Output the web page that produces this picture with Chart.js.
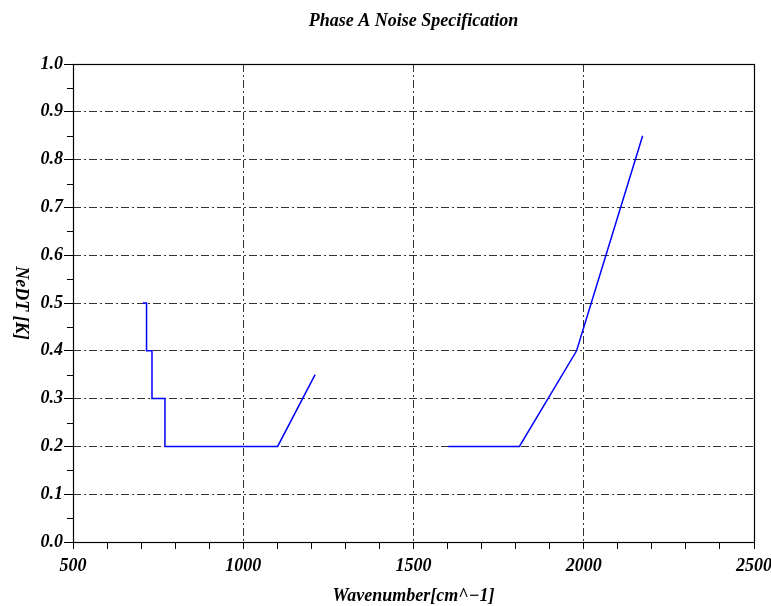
<!DOCTYPE html>
<html>
<head>
<meta charset="utf-8">
<script src="https://cdn.jsdelivr.net/npm/chart.js@4.4.1/dist/chart.umd.min.js"></script>
<style>
  html, body { margin: 0; padding: 0; background: #ffffff; }
  #wrap { width: 771px; height: 606px; position: relative; }
</style>
</head>
<body>
<div id="wrap"><canvas id="c" width="771" height="606"></canvas></div>
<script>
// ---- data ----
const chartTitle = 'Phase A Noise Specification';
const xTitle = 'Wavenumber[cm^\u22121]';
const yTitle = 'NeDT [K]';

const band1Wavenumber = [705, 716, 716, 732, 732, 770, 770, 1101, 1211];
const band1NeDT       = [0.5, 0.5, 0.4, 0.4, 0.3, 0.3, 0.2, 0.2, 0.35];

const band2Wavenumber = [1602, 1811, 1979, 2173];
const band2NeDT       = [0.2, 0.2, 0.4, 0.85];

const xMin = 500, xMax = 2500, xMajor = 500, xMinor = 100;
const yMin = 0, yMax = 1, yMajor = 0.1, yMinor = 0.05;

const toPoints = (xs, ys) => xs.map((x, i) => ({ x: x, y: ys[i] }));

const FONT = 'Liberation Serif, "Times New Roman", serif';
const gridDash = [8, 3, 2, 3];
const gridColor = '#333333';

const decorPlugin = {
  id: 'decor',
  afterDraw(chart) {
    const ctx = chart.ctx;
    const a = chart.chartArea;
    const ys = chart.scales.y;
    ctx.save();
    // minor ticks on y axis
    ctx.strokeStyle = '#000';
    ctx.lineWidth = 1;
    ctx.setLineDash([]);
    ctx.beginPath();
    for (let v = yMin + yMinor; v < yMax; v += yMajor) {
      const py = Math.round(ys.getPixelForValue(v)) + 0.5;
      ctx.moveTo(a.left - 6, py);
      ctx.lineTo(a.left, py);
    }
    ctx.stroke();
    // frame
    ctx.strokeStyle = '#000';
    ctx.lineWidth = 1.2;
    ctx.strokeRect(Math.round(a.left) + 0.5, Math.round(a.top) + 0.5,
                   Math.round(a.right - a.left), Math.round(a.bottom - a.top));
    // titles
    ctx.fillStyle = '#000';
    ctx.textAlign = 'center';
    ctx.textBaseline = 'middle';
    ctx.font = 'italic bold 18px ' + FONT;
    ctx.fillText(chartTitle, (a.left + a.right) / 2, 21);
    ctx.fillText(xTitle, (a.left + a.right) / 2, 596);
    ctx.translate(21, (a.top + a.bottom) / 2);
    ctx.rotate(Math.PI / 2);
    ctx.fillText(yTitle, 0, 0);
    ctx.restore();
  }
};

new Chart(document.getElementById('c'), {
  type: 'scatter',
  data: {
    datasets: [
      { label: 'band1', data: toPoints(band1Wavenumber, band1NeDT), showLine: true,
        borderColor: '#0000ff', borderWidth: 1.5, pointRadius: 0, fill: false, tension: 0 },
      { label: 'band2', data: toPoints(band2Wavenumber, band2NeDT), showLine: true,
        borderColor: '#0000ff', borderWidth: 1.5, pointRadius: 0, fill: false, tension: 0 }
    ]
  },
  options: {
    responsive: false,
    animation: false,
    devicePixelRatio: 1,
    layout: { padding: { top: 64, right: 17, bottom: 0, left: 0 } },
    plugins: { legend: { display: false }, title: { display: false }, tooltip: { enabled: false } },
    scales: {
      x: {
        type: 'linear', min: xMin, max: xMax,
        afterFit(s) { s.height = 64; s.paddingLeft = 0; s.paddingRight = 0; },
        border: { display: false, dash: gridDash },
        grid: {
          drawTicks: true, tickLength: 7, tickColor: '#000', tickWidth: 1, tickBorderDash: [],
          color: ctx => (ctx.tick && ctx.tick.value % xMajor === 0 && ctx.tick.value !== xMin && ctx.tick.value !== xMax) ? gridColor : 'rgba(0,0,0,0)',
          lineWidth: 1
        },
        ticks: {
          stepSize: xMinor, autoSkip: false, maxRotation: 0, padding: 7, color: '#000',
          font: { family: FONT, size: 18, style: 'italic', weight: 'bold' },
          callback: v => (v % xMajor === 0 ? String(v) : '')
        }
      },
      y: {
        type: 'linear', min: yMin, max: yMax,
        afterFit(s) { s.width = 73; s.paddingTop = 0; s.paddingBottom = 0; },
        border: { display: false, dash: gridDash },
        grid: {
          drawTicks: true, tickLength: 9, tickColor: '#000', tickWidth: 1, tickBorderDash: [],
          color: ctx => (ctx.tick && ctx.tick.value > yMin + 1e-9 && ctx.tick.value < yMax - 1e-9) ? gridColor : 'rgba(0,0,0,0)',
          lineWidth: 1
        },
        ticks: {
          stepSize: yMajor, padding: 1, color: '#000',
          font: { family: FONT, size: 18, style: 'italic', weight: 'bold' },
          callback: v => Number(v).toFixed(1)
        }
      }
    }
  },
  plugins: [decorPlugin]
});
</script>
</body>
</html>
